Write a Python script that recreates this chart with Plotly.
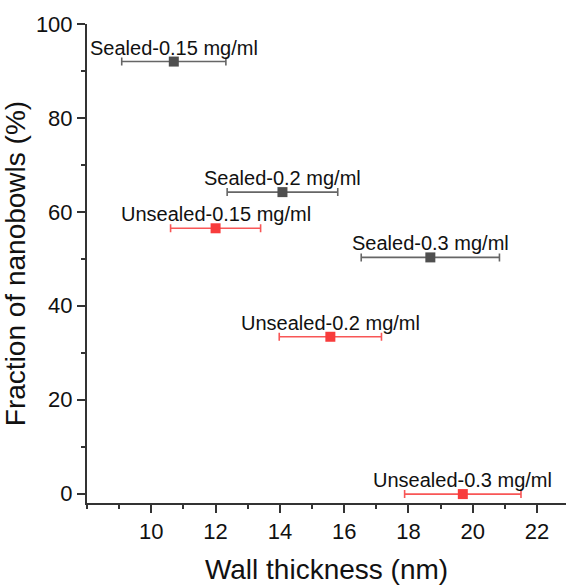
import plotly.graph_objects as go

# Wall thickness (nm), its spread, and fraction of nanobowls (%) per sample
sealed_labels = ["Sealed-0.15 mg/ml", "Sealed-0.2 mg/ml", "Sealed-0.3 mg/ml"]
sealed_x = [10.70, 14.08, 18.68]
sealed_err = [1.62, 1.72, 2.15]
sealed_y = [92.0, 64.2, 50.3]

unsealed_labels = ["Unsealed-0.15 mg/ml", "Unsealed-0.2 mg/ml", "Unsealed-0.3 mg/ml"]
unsealed_x = [12.00, 15.57, 19.69]
unsealed_err = [1.40, 1.59, 1.81]
unsealed_y = [56.5, 33.4, -0.1]

x_ticks = [10, 12, 14, 16, 18, 20, 22]
y_ticks = [0, 20, 40, 60, 80, 100]

FONT = "Arial, 'Liberation Sans', sans-serif"
AXIS_COLOR = "#333333"

fig = go.Figure()

series = [
    (sealed_labels, sealed_x, sealed_err, sealed_y, "#4f4f4f", "#666666"),
    (unsealed_labels, unsealed_x, unsealed_err, unsealed_y, "#f83c3c", "#f85656"),
]

for labels, xs, errs, ys, mcolor, ecolor in series:
    fig.add_trace(go.Scatter(
        x=xs, y=ys, mode="markers",
        marker=dict(symbol="square", size=10, color=mcolor, line=dict(width=0)),
        error_x=dict(type="data", array=errs, symmetric=True,
                     color=ecolor, thickness=1.6, width=4),
        showlegend=False, cliponaxis=False,
    ))
    for lab, xv, yv in zip(labels, xs, ys):
        fig.add_annotation(
            x=xv, y=yv, text=lab, showarrow=False,
            xanchor="center", yanchor="bottom", yshift=1,
            font=dict(family=FONT, size=20, color="#111111"),
        )

fig.update_xaxes(
    range=[8, 22.9], tickvals=x_ticks, ticktext=[str(v) for v in x_ticks],
    showline=True, linecolor=AXIS_COLOR, linewidth=2, mirror=False,
    ticks="outside", ticklen=8, tickwidth=2, tickcolor=AXIS_COLOR,
    minor=dict(ticks="outside", ticklen=4, tickwidth=2, tickcolor=AXIS_COLOR, dtick=1),
    showgrid=False, zeroline=False,
    tickfont=dict(family=FONT, size=22, color="#111111"),
    title=dict(text="Wall thickness (nm)", font=dict(family=FONT, size=28, color="#111111"),
               standoff=22),
)
fig.update_yaxes(
    range=[-2, 100], tickvals=y_ticks, ticktext=[str(v) for v in y_ticks],
    showline=True, linecolor=AXIS_COLOR, linewidth=2, mirror=False,
    ticks="outside", ticklen=8, tickwidth=2, tickcolor=AXIS_COLOR,
    minor=dict(ticks="outside", ticklen=4, tickwidth=2, tickcolor=AXIS_COLOR, dtick=10),
    showgrid=False, zeroline=False,
    tickfont=dict(family=FONT, size=22, color="#111111"),
    title=dict(text="Fraction of nanobowls (%)", font=dict(family=FONT, size=28, color="#111111"),
               standoff=14),
)

fig.update_layout(
    width=566, height=585,
    margin=dict(l=87, r=0, t=24, b=82),
    paper_bgcolor="white", plot_bgcolor="white",
)

fig.write_html("out.html")
